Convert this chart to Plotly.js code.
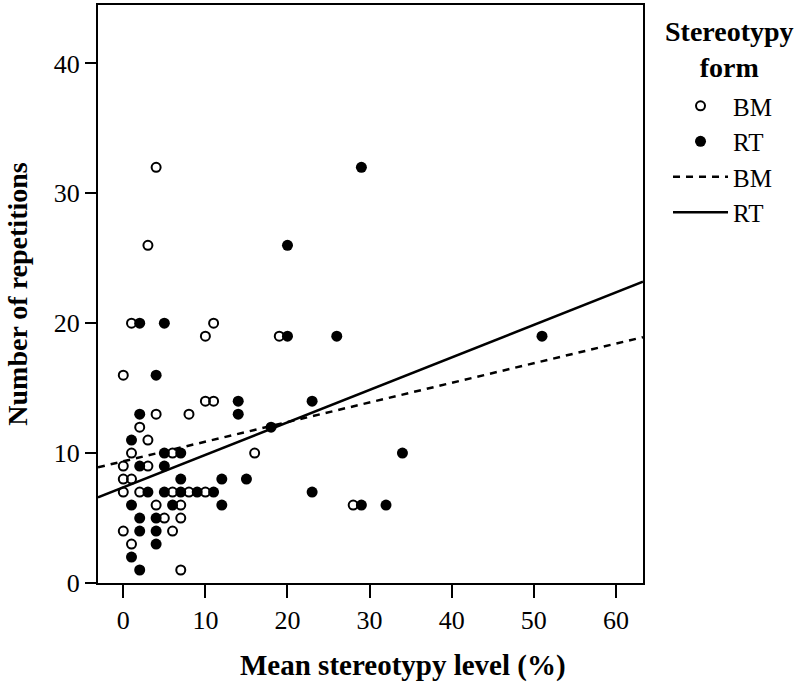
<!DOCTYPE html>
<html>
<head>
<meta charset="utf-8">
<script src="https://cdn.plot.ly/plotly-3.0.1.min.js"></script>
<style>html,body{margin:0;padding:0;background:#fff;}#chart{width:800px;height:690px;}</style>
</head>
<body>
<div id="chart"></div>
<script>
// BM (open circles)
const bmX = [4,3,1,11,10,19,0,10,11,4,8,2,3,1,6,16,0,3,0,1,0,2,6,8,10,4,7,28,5,7,0,6,1,7];
const bmY = [32,26,20,20,19,19,16,14,14,13,13,12,11,10,10,10,9,9,8,8,7,7,7,7,7,6,6,6,5,5,4,4,3,1];
// RT (filled circles)
const rtX = [29,20,2,5,20,26,51,4,14,23,14,2,18,1,5,7,34,2,5,7,12,15,3,5,7,9,11,23,1,6,12,29,32,2,4,4,2,4,1,2];
const rtY = [32,26,20,20,19,19,19,16,14,14,13,13,12,11,10,10,10,9,9,8,8,8,7,7,7,7,7,7,6,6,6,6,6,5,5,4,4,3,2,1];
// Linear fit lines: [intercept, slope]
const bmFit = [9.37, 0.151];
const rtFit = [7.37, 0.25];
const xRange = [-3.08, 63.3];
const yRange = [0, 44.5];
const xTicks = [0,10,20,30,40,50,60];
const yTicks = [0,10,20,30,40];
const legendTitle = 'Stereotypy<br>form';
const xTitle = 'Mean stereotypy level (%)';
const yTitle = 'Number of repetitions';

const fitLine = (c) => xRange.map(x => c[0] + c[1]*x);
const FONT = "Liberation Serif, Times New Roman, serif";

const traces = [
  {x: bmX, y: bmY, type:'scatter', mode:'markers', name:'BM',
   marker:{symbol:'circle-open', size:9, color:'#000', line:{width:2, color:'#000'}}},
  {x: rtX, y: rtY, type:'scatter', mode:'markers', name:'RT',
   marker:{symbol:'circle', size:11, color:'#000'}},
  {x: xRange, y: fitLine(bmFit), type:'scatter', mode:'lines', name:'BM',
   line:{color:'#000', width:2.5, dash:'7px,6px'}},
  {x: xRange, y: fitLine(rtFit), type:'scatter', mode:'lines', name:'RT',
   line:{color:'#000', width:2.5}}
];

const axisCommon = {
  showgrid:false, zeroline:false, showline:true, linecolor:'#000', linewidth:2,
  mirror:true, ticks:'outside', tickwidth:2, tickcolor:'#000',
  tickfont:{family:FONT, size:26, color:'#000'}
};

const layout = {
  width:800, height:690,
  margin:{l:98, r:157, t:5, b:107},
  paper_bgcolor:'#fff', plot_bgcolor:'#fff',
  font:{family:FONT, color:'#000'},
  xaxis: Object.assign({}, axisCommon, {
    range:xRange, tickvals:xTicks, ticktext:xTicks.map(String), ticklen:13
  }),
  yaxis: Object.assign({}, axisCommon, {
    range:yRange, tickvals:yTicks, ticktext:yTicks.map(String), ticklen:11,
    title:{text:'<b>'+yTitle+'</b>', font:{family:FONT, size:28, color:'#000'}, standoff:18}
  }),
  legend:{
    x:1.0459, y:0.865, xanchor:'left', yanchor:'top',
    font:{family:FONT, size:25, color:'#000'},
    tracegroupgap:0, itemwidth:55, bgcolor:'rgba(0,0,0,0)'
  },
  annotations:[
    {text:'<b>'+legendTitle+'</b>', xref:'paper', yref:'paper',
     x:(729-98)/545, y:0.985, xanchor:'center', yanchor:'top', showarrow:false,
     align:'center', font:{family:FONT, size:28, color:'#000'}},
    {text:'<b>'+xTitle+'</b>', xref:'paper', yref:'paper',
     x:(403-98)/545, y:(583-665)/578, xanchor:'center', yanchor:'middle', showarrow:false,
     font:{family:FONT, size:29, color:'#000'}}
  ],
  showlegend:true
};

Plotly.newPlot('chart', traces, layout, {displayModeBar:false, staticPlot:true});
</script>
</body>
</html>
